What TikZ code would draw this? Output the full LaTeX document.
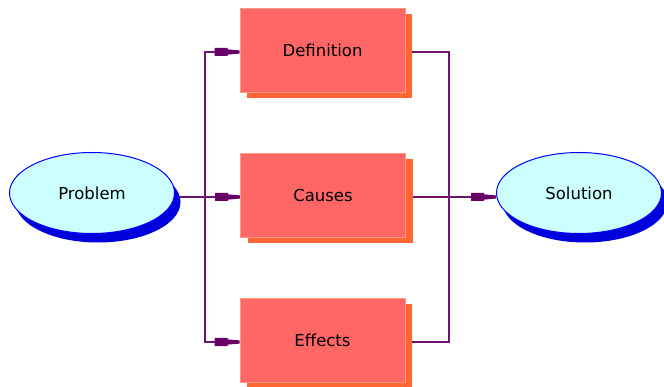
\documentclass[tikz,border=0pt]{standalone}
\usepackage{fontspec}
\setmainfont{DejaVu Sans}
\usetikzlibrary{shapes.geometric,shadows,arrows.meta,backgrounds}
\definecolor{boxfill}{HTML}{FF6666}
\definecolor{boxedge}{HTML}{FF9980}
\definecolor{boxshadow}{HTML}{FF6633}
\definecolor{ellfill}{HTML}{CCFFFF}
\definecolor{elledge}{HTML}{0000FF}
\definecolor{ellshadow}{HTML}{0000DD}
\definecolor{conncol}{HTML}{6E1470}
\definecolor{tipcol}{HTML}{660066}
\pgfdeclarearrow{
  name=plugtip,
  setup code={%
    \pgfarrowssettipend{0pt}%
    \pgfarrowssetlineend{-24pt}%
    \pgfarrowssetvisualbackend{-25pt}%
    \pgfarrowssetbackend{-25pt}%
    \pgfarrowssavethe\pgfarrowlength},
  drawing code={%
    \pgfpathmoveto{\pgfpoint{-25pt}{4pt}}%
    \pgfpathlineto{\pgfpoint{-12pt}{4pt}}%
    \pgfpathlineto{\pgfpoint{-12pt}{2.6pt}}%
    \pgfpathlineto{\pgfpoint{0pt}{1.6pt}}%
    \pgfpathlineto{\pgfpoint{0pt}{-1.6pt}}%
    \pgfpathlineto{\pgfpoint{-12pt}{-2.6pt}}%
    \pgfpathlineto{\pgfpoint{-12pt}{-4pt}}%
    \pgfpathlineto{\pgfpoint{-25pt}{-4pt}}%
    \pgfpathclose
    \pgfusepathqfill},
  defaults={length=25pt}
}
\begin{document}
\begin{tikzpicture}[x=1pt,y=-1pt,
  lbl/.style={font=\fontsize{16.5}{19}\selectfont, text=black},
  stepbox/.style={lbl, rectangle, fill=boxfill, draw=boxedge, line width=0.8pt,
    minimum width=165pt, minimum height=84pt, inner sep=0pt,
    drop shadow={shadow xshift=7pt, shadow yshift=-6pt, fill=boxshadow, opacity=1}},
  endell/.style={lbl, ellipse, fill=ellfill, draw=elledge, line width=1pt,
    minimum width=165pt, minimum height=81pt, inner sep=0pt,
    drop shadow={shadow xshift=6pt, shadow yshift=-9pt, fill=ellshadow, opacity=1}},
  conn/.style={draw=conncol, line width=1.5pt},
  plug/.style={-{plugtip[color=tipcol]}}
]
\useasboundingbox (0,0) rectangle (664,387);
\node[endell] (prob) at (92,193) {Problem};
\node[stepbox] (def) at (322.5,50) {Definition};
\node[stepbox] (cau) at (323,195) {Causes};
\node[stepbox] (eff) at (322.5,340) {Effects};
\node[endell] (sol) at (579,193) {Solution};
\coordinate (lv) at (205,197);
\coordinate (rv) at (449,197);
\begin{scope}[on background layer]
  \draw[conn,plug] ([yshift=-4pt]prob.center) -- ([yshift=-2pt]cau.west);
  \draw[conn,plug] (lv) |- ([yshift=-2pt]def.west);
  \draw[conn,plug] (lv) |- ([yshift=-2pt]eff.west);
  \draw[conn] ([yshift=-2pt]def.east) -| (rv) |- ([yshift=-2pt]eff.east);
  \draw[conn,plug] ([yshift=-2pt]cau.east) -- ([yshift=-4pt]sol.west);
\end{scope}
\end{tikzpicture}
\end{document}
